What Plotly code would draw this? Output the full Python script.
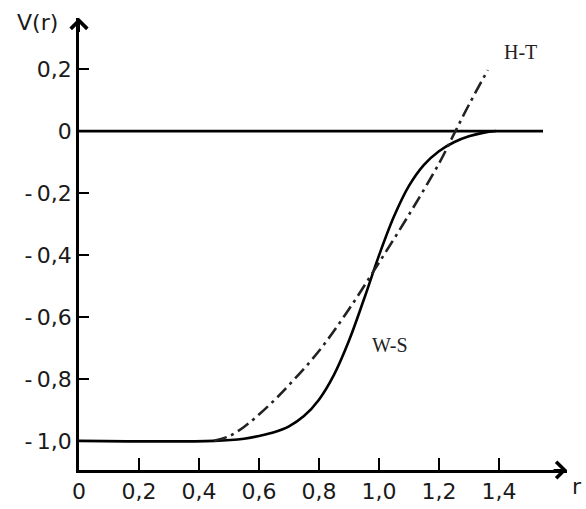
import plotly.graph_objects as go

# ---- data ----
ws_r = [0.0, 0.45, 0.55, 0.60, 0.65, 0.70, 0.75, 0.80, 0.85, 0.90, 0.95, 1.00, 1.05, 1.10, 1.15, 1.20, 1.25, 1.30, 1.35, 1.39]
ws_v = [-1.0, -1.0, -0.993, -0.984, -0.972, -0.953, -0.92, -0.867, -0.787, -0.677, -0.543, -0.402, -0.276, -0.177, -0.109, -0.065, -0.036, -0.017, -0.005, 0.0]

ht_r = [0.45, 0.50, 0.55, 0.60, 0.65, 0.70, 0.80, 0.90, 1.00, 1.10, 1.20, 1.25, 1.30, 1.363]
ht_v = [-1.0, -0.985, -0.955, -0.915, -0.87, -0.82, -0.71, -0.575, -0.425, -0.27, -0.105, -0.01, 0.085, 0.197]

zero_r = [0.0, 1.547]
zero_v = [0.0, 0.0]

x_ticks = [0, 0.2, 0.4, 0.6, 0.8, 1.0, 1.2, 1.4]
x_labels = ["0", "0,2", "0,4", "0,6", "0,8", "1,0", "1,2", "1,4"]
y_ticks = [0.2, 0, -0.2, -0.4, -0.6, -0.8, -1.0]
y_labels = ["0,2", "0", "-\u20090,2", "-\u20090,4", "-\u20090,6", "-\u20090,8", "-\u20091,0"]

x_range = [0, 1.627]
y_range = [-1.094, 0.365]

fig = go.Figure()
fig.add_trace(go.Scatter(x=zero_r, y=zero_v, mode="lines",
                         line=dict(color="black", width=2.6), showlegend=False, hoverinfo="skip"))
fig.add_trace(go.Scatter(x=ws_r, y=ws_v, mode="lines", name="W-S",
                         line=dict(color="black", width=2.6, shape="spline", smoothing=1.0),
                         showlegend=False))
fig.add_trace(go.Scatter(x=ht_r, y=ht_v, mode="lines", name="H-T",
                         line=dict(color="#222", width=2.6, shape="spline", smoothing=1.0,
                                   dash="13px,5px,3px,5px"),
                         showlegend=False))

tick_font = dict(family="DejaVu Sans", size=22, color="#1a1a1a")

W, H = 586, 509
ML, MR, MT, MB = 79, 19, 18, 39
pw = W - ML - MR
ph = H - MT - MB


def px2paper(px, py):
    return (px - ML) / pw, 1 - (py - MT) / ph


vx, vy = px2paper(37, 22)
rx, ry = px2paper(577, 487)

fig.update_layout(
    width=W, height=H, autosize=False,
    margin=dict(l=ML, r=MR, t=MT, b=MB, autoexpand=False),
    paper_bgcolor="white", plot_bgcolor="white",
    xaxis=dict(range=x_range, tickvals=x_ticks, ticktext=x_labels, ticks="inside",
               ticklen=12, tickwidth=2, tickcolor="black", showline=True, linewidth=2.6,
               linecolor="black", showgrid=False, zeroline=False, tickfont=tick_font,
               fixedrange=True, automargin=False),
    yaxis=dict(range=y_range, tickvals=y_ticks, ticktext=y_labels, ticks="inside",
               ticklen=10, tickwidth=2, tickcolor="black", showline=True, linewidth=2.6,
               linecolor="black", showgrid=False, zeroline=False, tickfont=tick_font,
               fixedrange=True, automargin=False),
    annotations=[
        dict(x=x_range[1], y=y_range[0], ax=x_range[1] - 0.05, ay=y_range[0],
             xref="x", yref="y", axref="x", ayref="y", text="", showarrow=True,
             arrowhead=4, arrowsize=1.6, arrowwidth=2, arrowcolor="black"),
        dict(x=0, y=y_range[1], ax=0, ay=y_range[1] - 0.05,
             xref="x", yref="y", axref="x", ayref="y", text="", showarrow=True,
             arrowhead=4, arrowsize=1.6, arrowwidth=2, arrowcolor="black"),
        dict(x=1.037, y=-0.69, xref="x", yref="y", text="W-S", showarrow=False,
             xanchor="center", yanchor="middle",
             font=dict(family="Liberation Serif", size=20, color="#222")),
        dict(x=1.473, y=0.255, xref="x", yref="y", text="H-T", showarrow=False,
             xanchor="center", yanchor="middle",
             font=dict(family="Liberation Serif", size=20, color="#222")),
        dict(x=vx, y=vy, xref="paper", yref="paper", text="V(r)", showarrow=False,
             xanchor="center", yanchor="middle", font=tick_font),
        dict(x=rx, y=ry, xref="paper", yref="paper", text="r", showarrow=False,
             xanchor="center", yanchor="middle", font=tick_font),
    ],
)

fig.write_html(
    "out.html",
    config={"displayModeBar": False},
    post_script="document.body.style.margin='0';document.body.style.overflow='hidden';",
)
